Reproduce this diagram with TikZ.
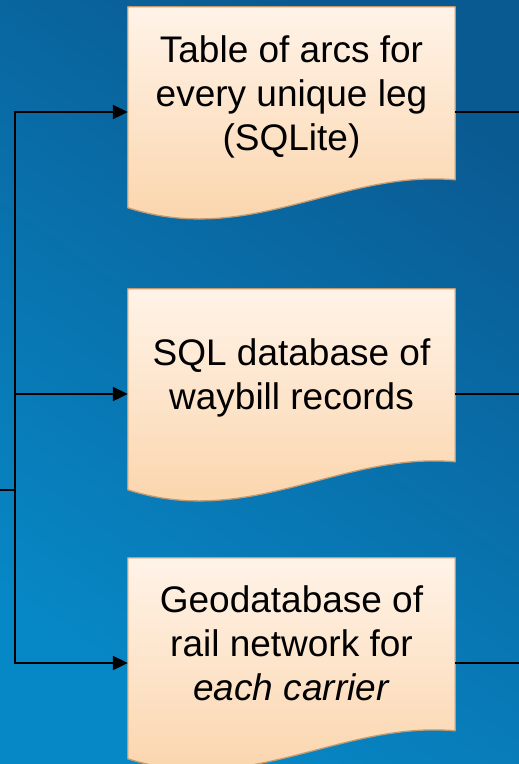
\documentclass[tikz,border=0pt]{standalone}
\usepackage{fontspec}
\setmainfont{Liberation Sans}
\usetikzlibrary{calc,arrows.meta}

\definecolor{bgdark}{HTML}{0A5A92}
\definecolor{bglight}{HTML}{0788C6}
\definecolor{doctop}{HTML}{FFF3E8}
\definecolor{docbot}{HTML}{FAD2A6}
\definecolor{docedge}{HTML}{C49B70}

% outline of a document box: flat top, wavy bottom
\newcommand\docoutline[1]{(#1.north west) -- (#1.north east)
  -- ($(#1.north east)+(0,173)$)
  .. controls ($(#1.north east)+(-115,163)$) and ($(#1.north west)+(122,240)$)
  .. ($(#1.north west)+(0,201)$) -- cycle}

\tikzset{
  docbox/.style={minimum width=327pt, minimum height=210pt, inner sep=0pt, draw=none},
  doctext/.style={anchor=north, inner sep=0pt, align=center,
    font=\fontsize{37pt}{44pt}\selectfont},
  link/.style={line width=2.2pt, black},
  linkarrow/.style={link, -{Triangle[length=15pt,width=14pt]}},
}

\begin{document}
\begin{tikzpicture}[x=1pt,y=-1pt]
  \useasboundingbox (0,0) rectangle (519,764);
  \clip (0,0) rectangle (519,764);
  % background
  \shade[left color=bgdark, right color=bglight, shading angle=-35]
    (0,0) rectangle (519,764);

  % document boxes
  \node[docbox] (b1) at (291.5,112) {};
  \node[docbox] (b2) at (291.5,394) {};
  \node[docbox] (b3) at (291.5,663) {};

  \foreach \b in {b1,b2,b3}{
    \fill[black, opacity=0.22, shift={(2,3)}] \docoutline{\b};
    \shade[top color=doctop, bottom color=docbot] \docoutline{\b};
    \draw[docedge, line width=1.3pt, line join=round] \docoutline{\b};
  }

  \node[doctext] (t1) at ($(b1.north)+(0,25)$)
    {\rule{0pt}{30pt}Table of arcs for\\every unique leg\\(SQLite)};
  \node[doctext] (t2) at ($(b2.north)+(0,46)$)
    {\rule{0pt}{30pt}SQL database of\\waybill records};
  \node[doctext] (t3) at ($(b3.north)+(0,24)$)
    {\rule{0pt}{30pt}Geodatabase of\\rail network for\\\textit{each carrier}};

  % connectors
  \coordinate (in) at (0,490);
  \coordinate (split) at (15,490);
  \coordinate (o1) at (519,112);
  \coordinate (o2) at (519,394);
  \coordinate (o3) at (519,663);

  \draw[link] (in) -- (split);
  \draw[linkarrow] (split) |- (b1.west);
  \draw[linkarrow] (split) |- (b2.west);
  \draw[linkarrow] (split) |- (b3.west);
  \draw[link] (b1.east) -- (o1);
  \draw[link] (b2.east) -- (o2);
  \draw[link] (b3.east) -- (o3);
\end{tikzpicture}
\end{document}
